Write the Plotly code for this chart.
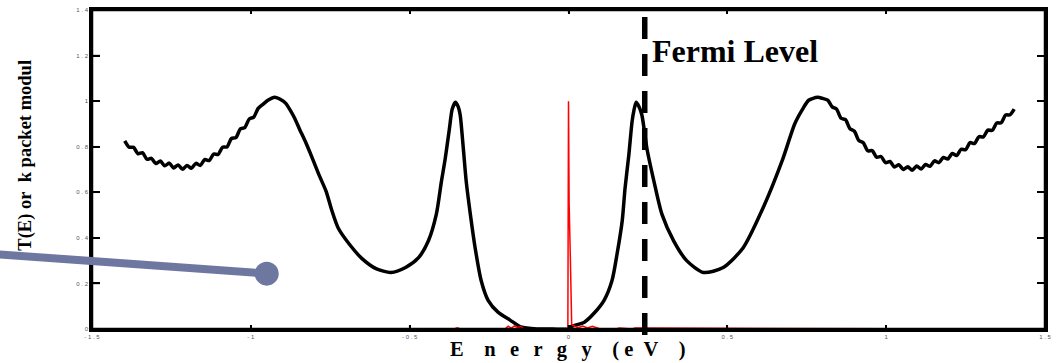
import plotly.graph_objects as go

# ---- data ----
energy_T = [-1.397, -1.383, -1.369, -1.355, -1.341, -1.327, -1.313, -1.299, -1.285, -1.271,
            -1.257, -1.243, -1.229, -1.215, -1.201, -1.187, -1.173, -1.159, -1.145, -1.131,
            -1.117, -1.103, -1.089, -1.075, -1.061, -1.047, -1.033, -1.019, -1.005, -0.991,
            -0.977, -0.963, -0.945, -0.925, -0.905, -0.89, -0.878, -0.862, -0.847, -0.826,
            -0.806, -0.785, -0.763, -0.745, -0.725, -0.691, -0.65, -0.606, -0.559, -0.513,
            -0.472, -0.441, -0.416, -0.4, -0.388, -0.375, -0.366, -0.356, -0.347, -0.341,
            -0.331, -0.322, -0.309, -0.294, -0.275, -0.253, -0.222, -0.184, -0.15, -0.1,
            -0.05, 0.0, 0.006, 0.05, 0.081, 0.112, 0.137, 0.153, 0.169, 0.178,
            0.19, 0.2, 0.206, 0.213, 0.222, 0.231, 0.247, 0.269, 0.294, 0.331,
            0.372, 0.425, 0.487, 0.55, 0.612, 0.675, 0.712, 0.737, 0.756, 0.784,
            0.8, 0.816, 0.83, 0.844, 0.858, 0.872, 0.886, 0.9, 0.914, 0.928,
            0.942, 0.956, 0.97, 0.984, 0.998, 1.012, 1.026, 1.04, 1.054, 1.068,
            1.082, 1.096, 1.11, 1.124, 1.138, 1.152, 1.166, 1.18, 1.194, 1.208,
            1.222, 1.236, 1.25, 1.264, 1.278, 1.292, 1.306, 1.32, 1.334, 1.348,
            1.362, 1.376, 1.39, 1.403]
T_values = [0.826, 0.798, 0.797, 0.769, 0.774, 0.745, 0.749, 0.726, 0.737, 0.716,
            0.728, 0.707, 0.720, 0.701, 0.718, 0.705, 0.727, 0.718, 0.744, 0.739,
            0.768, 0.766, 0.798, 0.799, 0.836, 0.840, 0.878, 0.884, 0.922, 0.930,
            0.968, 0.985, 1.005, 1.017, 1.006, 0.99, 0.965, 0.925, 0.878, 0.815,
            0.748, 0.675, 0.604, 0.52, 0.443, 0.374, 0.309, 0.265, 0.248, 0.27,
            0.313, 0.387, 0.504, 0.648, 0.748, 0.878, 0.965, 0.995, 0.975, 0.939,
            0.791, 0.648, 0.504, 0.357, 0.213, 0.126, 0.074, 0.039, 0.009, 0.0,
            0.0, 0.0, 0.009, 0.03, 0.07, 0.126, 0.213, 0.33, 0.474, 0.617,
            0.765, 0.909, 0.96, 0.995, 0.975, 0.939, 0.791, 0.648, 0.504, 0.387,
            0.3, 0.248, 0.27, 0.357, 0.53, 0.748, 0.9, 0.965, 1.004, 1.017,
            1.012, 1.004, 0.975, 0.965, 0.925, 0.919, 0.879, 0.868, 0.827, 0.817,
            0.782, 0.783, 0.754, 0.757, 0.730, 0.735, 0.711, 0.721, 0.700, 0.712,
            0.697, 0.715, 0.702, 0.722, 0.714, 0.738, 0.730, 0.753, 0.746, 0.770,
            0.761, 0.789, 0.787, 0.818, 0.814, 0.844, 0.843, 0.873, 0.872, 0.904,
            0.905, 0.939, 0.940, 0.965]

energy_packet = [-1.4, -0.36, -0.35, -0.34, -0.2, -0.19, -0.18, -0.17, -0.16, -0.15,
                 -0.14, -0.002, 0.0, 0.002, 0.006, 0.01, 0.02, 0.03, 0.045, 0.06,
                 0.075, 0.09, 0.1, 0.15, 0.16, 0.2, 0.21, 1.4]
packet_values = [0.0, 0.0, 0.005, 0.0, 0.0, 0.012, 0.004, 0.014, 0.006, 0.012,
                 0.0, 0.0, 1.0, 0.55, 0.3, 0.02, 0.012, 0.006, 0.013, 0.005,
                 0.012, 0.004, 0.0, 0.0, 0.004, 0.0, 0.004, 0.0]

x_tickvals = [-1.5, -1, -0.5, 0, 0.5, 1, 1.5]
x_ticktext = ["- 1 . 5", "- 1", "- 0 . 5", "0", "0 . 5", "1", "1 . 5"]
y_tickvals = [0, 0.2, 0.4, 0.6, 0.8, 1.0, 1.2, 1.4]
y_ticktext = ["0", "0 . 2", "0 . 4", "0 . 6", "0 . 8", "1", "1 . 2", "1 . 4"]

fermi_energy = 0.24
marker_point = (-0.95, 0.243)

x_range = [-1.5, 1.5]
y_range = [0, 1.4]

W, H = 1058, 363
M = dict(l=92, r=7, t=7, b=34)
plot_w = W - M["l"] - M["r"]
plot_h = H - M["t"] - M["b"]

fig = go.Figure()
fig.add_trace(go.Scatter(x=energy_T, y=T_values, mode="lines",
                         line=dict(color="black", width=3.5, shape="spline", smoothing=0.7),
                         showlegend=False, hoverinfo="skip"))
fig.add_trace(go.Scatter(x=energy_packet, y=packet_values, mode="lines",
                         line=dict(color="#ff0000", width=1.5),
                         showlegend=False, hoverinfo="skip"))

serif = "Liberation Serif, Times New Roman, serif"
axis_common = dict(showgrid=False, zeroline=False, showline=True, linecolor="#000000",
                   linewidth=2.5, mirror="ticks", ticks="inside", tickcolor="#000000",
                   tickwidth=1.5, tickfont=dict(family="Arial, Liberation Sans", size=6, color="#555555"))
fig.update_xaxes(range=x_range, tickvals=x_tickvals, ticktext=x_ticktext, ticklen=4, **axis_common)
fig.update_yaxes(range=y_range, tickvals=y_tickvals, ticktext=y_ticktext, ticklen=8, **axis_common)

mx = (marker_point[0] - x_range[0]) / (x_range[1] - x_range[0])
my = (marker_point[1] - y_range[0]) / (y_range[1] - y_range[0])

# frame drawn as a paper rectangle, tick marks as short lines at the tick values
frame_shapes = [dict(type="rect", xref="paper", yref="paper", x0=0, x1=1, y0=0, y1=1,
                     line=dict(color="rgb(0,0,0)", width=2.5), fillcolor="rgba(0,0,0,0)")]
ytl = 8 / plot_w
xtl = 4 / plot_h
for v in y_tickvals[1:-1]:
    frame_shapes.append(dict(type="line", xref="paper", yref="y", x0=0, x1=ytl, y0=v, y1=v,
                             line=dict(color="rgb(0,0,0)", width=1.5)))
    frame_shapes.append(dict(type="line", xref="paper", yref="y", x0=1 - ytl * 0.5, x1=1, y0=v, y1=v,
                             line=dict(color="rgb(0,0,0)", width=1.2)))
for v in x_tickvals[1:-1]:
    frame_shapes.append(dict(type="line", xref="x", yref="paper", x0=v, x1=v, y0=0, y1=xtl,
                             line=dict(color="rgb(0,0,0)", width=1.5)))
    frame_shapes.append(dict(type="line", xref="x", yref="paper", x0=v, x1=v, y0=1 - xtl * 0.8, y1=1,
                             line=dict(color="rgb(0,0,0)", width=1.2)))

NB = "\u00a0"
TH = "\u2009"
gap = NB + NB + TH
x_title = ("E" + NB * 4 + "n" + gap + "e" + gap + "r" + gap + "g" + gap + "y"
           + NB * 4 + "(" + NB + "e" + NB * 2 + "V" + NB * 4 + ")")

fig.update_layout(
    width=W, height=H,
    margin=M,
    plot_bgcolor="white", paper_bgcolor="white",
    shapes=frame_shapes + [
        dict(type="line", xref="x", yref="paper", x0=fermi_energy, x1=fermi_energy,
             y0=-0.0186, y1=0.978, line=dict(color="black", width=5.5, dash="22px,15px")),
        dict(type="line", xref="paper", yref="paper", x0=-0.1, y0=my + 0.061,
             x1=mx, y1=my, line=dict(color="#6E77A0", width=8)),
        dict(type="circle", xref="x", yref="y", xsizemode="pixel", ysizemode="pixel",
             xanchor=marker_point[0], yanchor=marker_point[1], x0=-12, x1=12, y0=-12, y1=12,
             fillcolor="#6E77A0", line=dict(color="#6E77A0", width=0)),
    ],
    annotations=[
        dict(text="<b>Fermi Level</b>", x=fermi_energy + 0.017, y=1.222, xref="x", yref="y",
             xanchor="left", yanchor="middle", showarrow=False,
             font=dict(family=serif, size=32, color="black")),
        dict(text="<b>T(E) or" + NB * 2 + "k packet modul</b>", x=-0.0698, y=0.545,
             xref="paper", yref="paper", textangle=-90, showarrow=False,
             xanchor="center", yanchor="middle",
             font=dict(family=serif, size=18.5, color="black")),
        dict(text="<b>" + x_title + "</b>",
             x=0.499, y=-0.065, xref="paper", yref="paper", showarrow=False,
             xanchor="center", yanchor="middle",
             font=dict(family=serif, size=20.5, color="black")),
    ],
)

fig.write_html("out.html", config={"displayModeBar": False},
               post_script="document.body.style.margin='0';document.body.style.overflow='hidden';")
